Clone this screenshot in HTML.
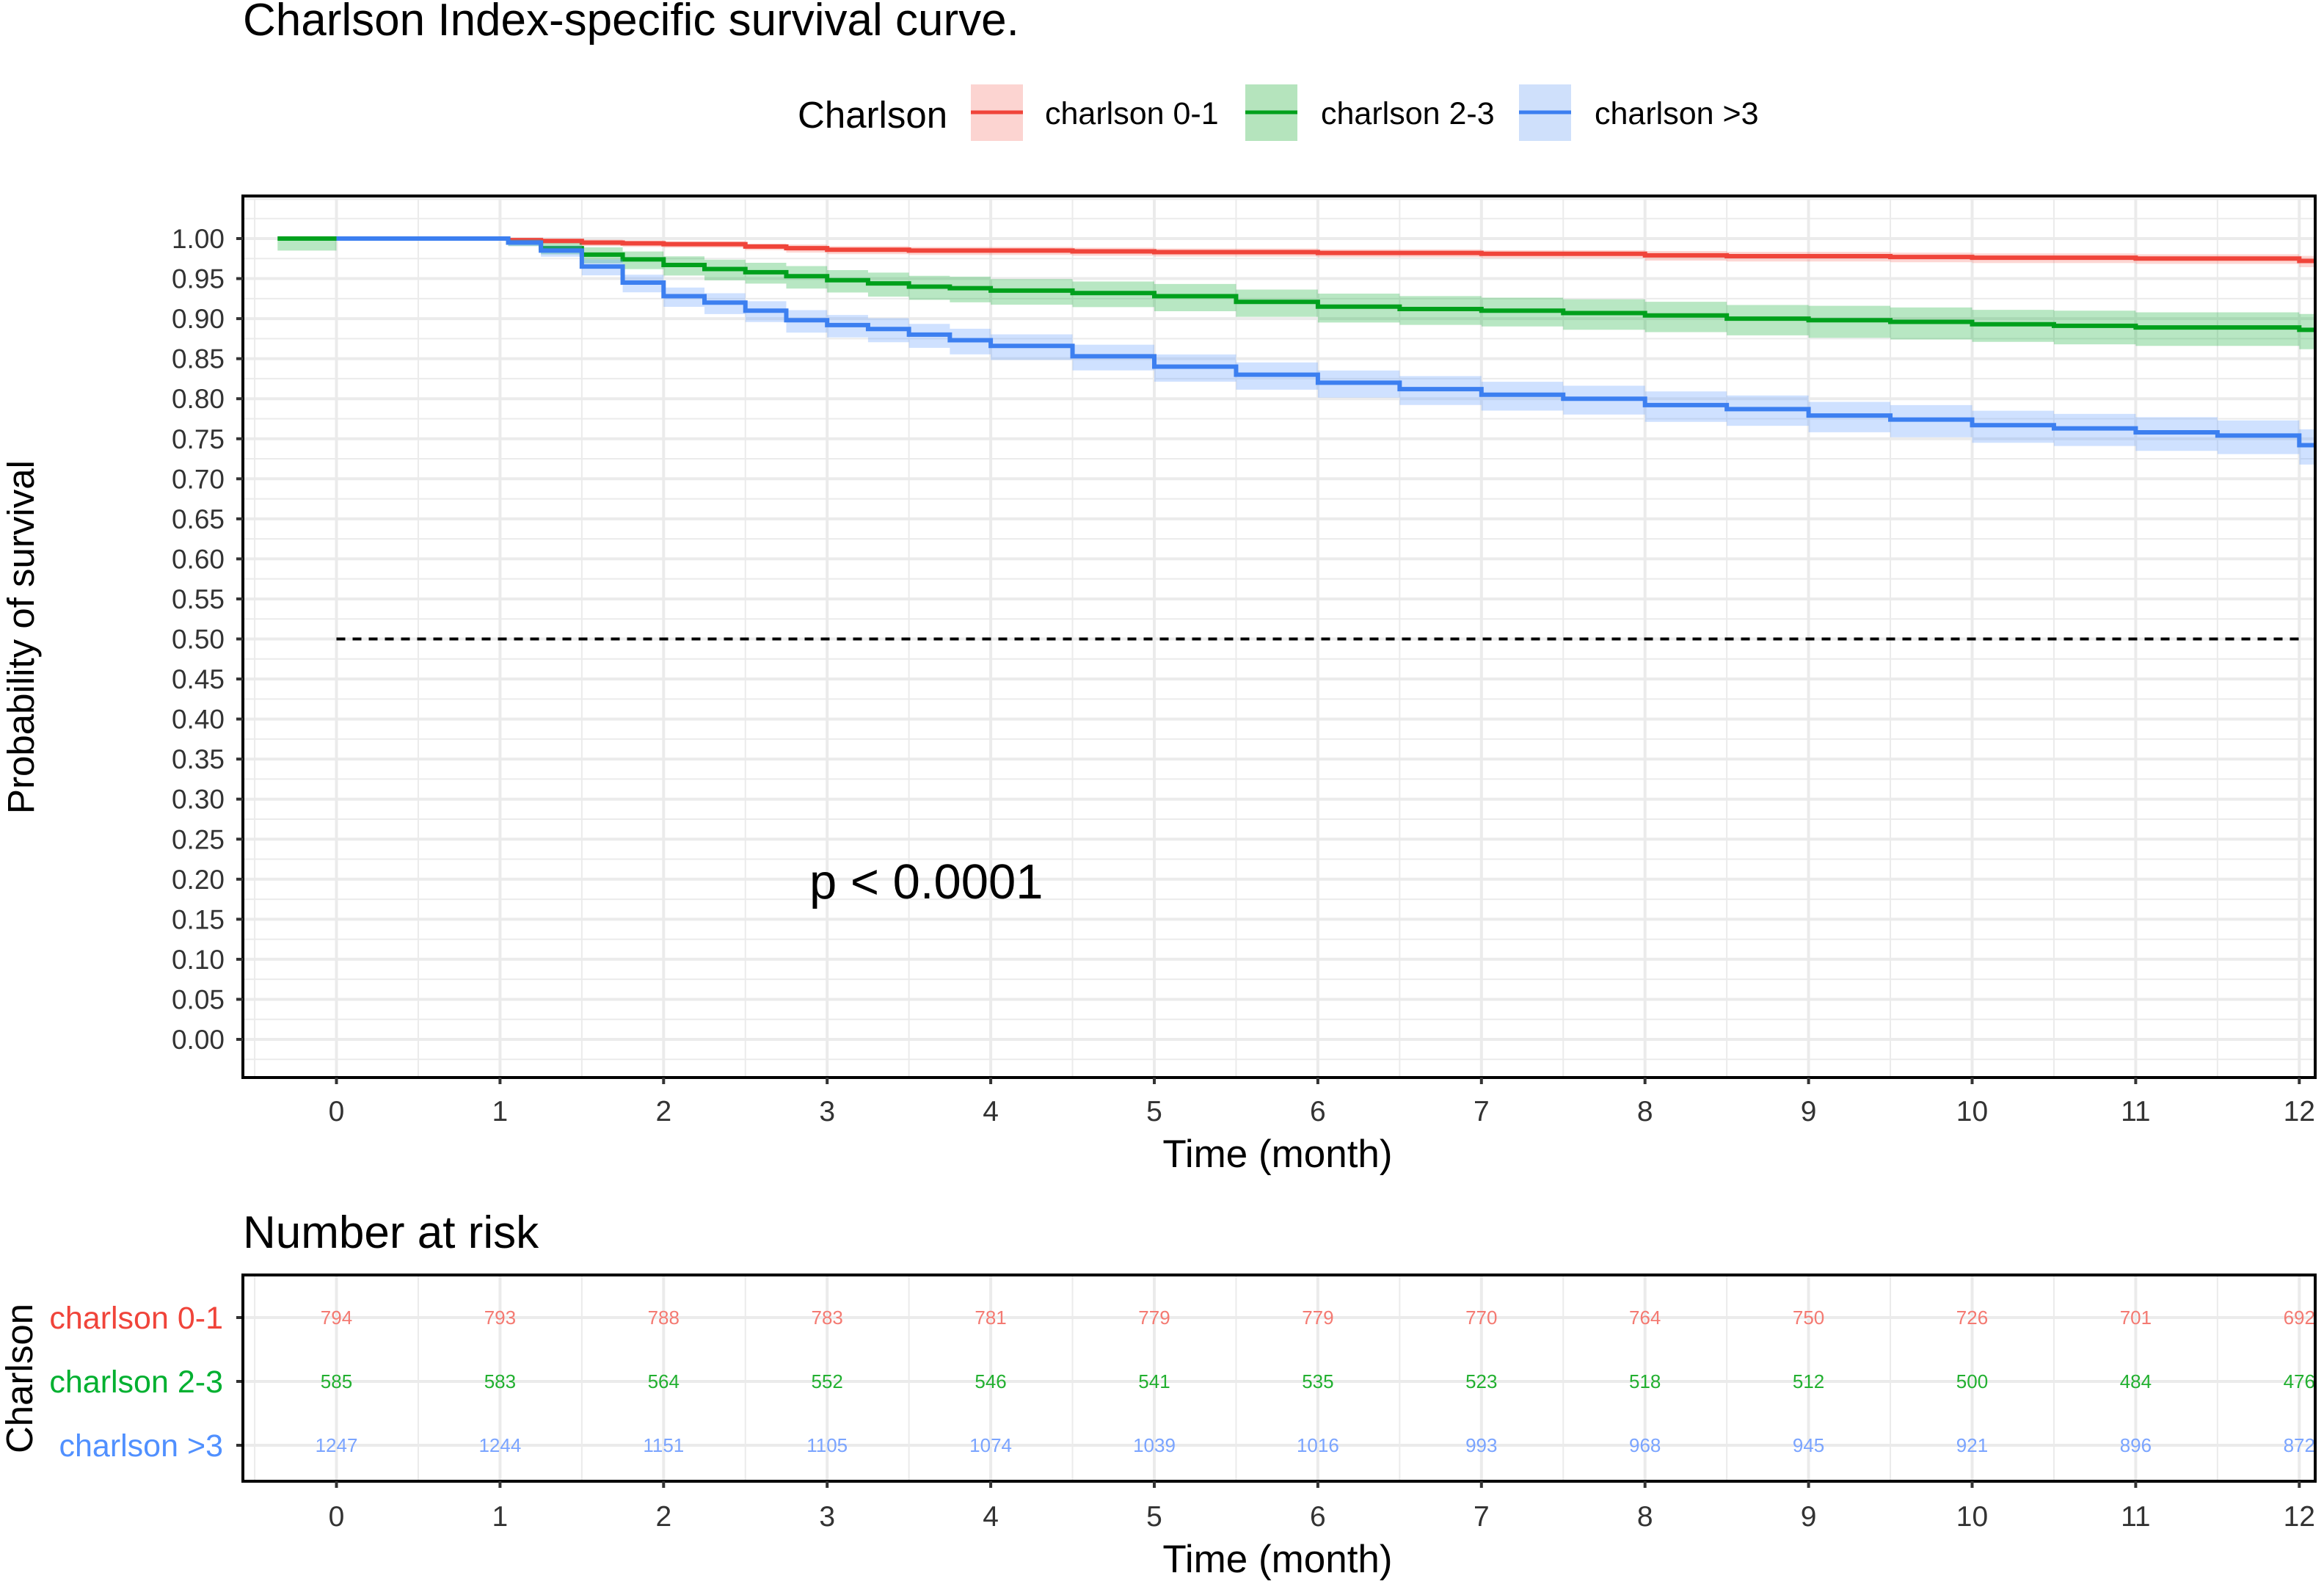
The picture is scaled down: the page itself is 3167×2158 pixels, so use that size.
<!DOCTYPE html>
<html><head><meta charset="utf-8"><style>
html,body{margin:0;padding:0;background:#fff;}
svg{display:block;font-family:"Liberation Sans",Arial,sans-serif;}
</style></head><body>
<svg id="chart" width="3167" height="2158" viewBox="0 0 3167 2158" xmlns="http://www.w3.org/2000/svg">
<defs>
<clipPath id="pclip"><rect x="331" y="267" width="2824" height="1201"/></clipPath>
<clipPath id="rclip"><rect x="331" y="1737" width="2824" height="281"/></clipPath>
</defs>
<text x="331" y="48" font-size="62">Charlson Index-specific survival curve.</text>
<g>
<text x="1087" y="174" font-size="51">Charlson</text>
<g>
<rect x="1323" y="115" width="71" height="77" fill="#fcd4d1"/><line x1="1323" y1="153" x2="1394" y2="153" stroke="#f0443a" stroke-width="5"/>
<text x="1424" y="169" font-size="43">charlson 0-1</text></g>
<g>
<rect x="1697" y="115" width="71" height="77" fill="#b5e4bd"/><line x1="1697" y1="153" x2="1768" y2="153" stroke="#00a01c" stroke-width="5"/>
<text x="1800" y="169" font-size="43">charlson 2-3</text></g>
<g>
<rect x="2070" y="115" width="71" height="77" fill="#cfe0fb"/><line x1="2070" y1="153" x2="2141" y2="153" stroke="#3c7ff0" stroke-width="5"/>
<text x="2173" y="169" font-size="43">charlson &gt;3</text></g>
</g>
<g id="main"></g>
<g id="risk"></g>
<text transform="translate(46,868) rotate(-90)" text-anchor="middle" font-size="51">Probability of survival</text>
<text x="1741" y="1590" text-anchor="middle" font-size="53">Time (month)</text>
<text x="1103" y="1224" font-size="67">p &lt; 0.0001</text>
<text x="331" y="1700" font-size="62">Number at risk</text>
<text transform="translate(44,1878) rotate(-90)" text-anchor="middle" font-size="51">Charlson</text>
<text x="1741" y="2142" text-anchor="middle" font-size="53">Time (month)</text>
</svg>
<script>
const months = [0,0.5,1,1.05,1.25,1.5,1.75,2,2.25,2.5,2.75,3,3.25,3.5,3.75,4,4.5,5,5.5,6,6.5,7,7.5,8,8.5,9,9.5,10,10.5,11,11.5,12];
const survRed   = [1,1,1,0.998,0.997,0.995,0.994,0.993,0.993,0.99,0.988,0.986,0.986,0.985,0.985,0.985,0.984,0.983,0.983,0.982,0.982,0.981,0.981,0.979,0.978,0.978,0.977,0.976,0.976,0.975,0.975,0.972];
const survGreen = [1,1,1,0.995,0.988,0.98,0.974,0.967,0.962,0.958,0.953,0.948,0.944,0.94,0.938,0.935,0.932,0.928,0.921,0.915,0.912,0.91,0.907,0.904,0.9,0.898,0.896,0.893,0.891,0.889,0.889,0.886];
const survBlue  = [1,1,1,0.995,0.985,0.965,0.945,0.928,0.92,0.91,0.898,0.892,0.887,0.88,0.873,0.866,0.853,0.84,0.83,0.82,0.812,0.805,0.8,0.792,0.787,0.779,0.774,0.767,0.763,0.758,0.754,0.742];
const ciRed   = [0,0,0,0.002,0.003,0.004,0.004,0.004,0.004,0.004,0.005,0.005,0.005,0.005,0.005,0.005,0.005,0.005,0.005,0.005,0.005,0.005,0.005,0.006,0.006,0.006,0.006,0.006,0.006,0.006,0.006,0.007];
const ciGreen = [0,0,0,0.004,0.007,0.01,0.011,0.012,0.013,0.013,0.014,0.014,0.015,0.015,0.016,0.016,0.016,0.017,0.017,0.018,0.018,0.018,0.019,0.019,0.019,0.02,0.02,0.02,0.021,0.021,0.021,0.022];
const ciBlue  = [0,0,0,0.004,0.007,0.01,0.011,0.012,0.013,0.013,0.014,0.014,0.015,0.015,0.016,0.016,0.016,0.017,0.017,0.017,0.018,0.018,0.018,0.019,0.019,0.019,0.02,0.02,0.02,0.021,0.021,0.022];
const yTicks = ["0.00","0.05","0.10","0.15","0.20","0.25","0.30","0.35","0.40","0.45","0.50","0.55","0.60","0.65","0.70","0.75","0.80","0.85","0.90","0.95","1.00"];
const xTicks = [0,1,2,3,4,5,6,7,8,9,10,11,12];
const riskRed   = [794,793,788,783,781,779,779,770,764,750,726,701,692];
const riskGreen = [585,583,564,552,546,541,535,523,518,512,500,484,476];
const riskBlue  = [1247,1244,1151,1105,1074,1039,1016,993,968,945,921,896,872];
const groups = ["charlson 0-1","charlson 2-3","charlson >3"];

const NS="http://www.w3.org/2000/svg";
const X = v => 458.5 + v*222.9;
const Y = v => 1416 - v*1091;
function mk(parent,tag,attrs){const e=document.createElementNS(NS,tag);for(const k in attrs)e.setAttribute(k,attrs[k]);parent.appendChild(e);return e;}
const main=document.getElementById('main');
const risk=document.getElementById('risk');

for(let k=-1; k<=42; k++){const v=k*0.025;const major=(k%2===0);
 const l=mk(main,'line',{x1:331,x2:3155,y1:Y(v),y2:Y(v),stroke:'#ebebeb','stroke-width':major?4:2});
 
 }
for(let k=-1; k<=24; k++){const v=k*0.5;const major=(k%2===0);
 const l=mk(main,'line',{x1:X(v),x2:X(v),y1:267,y2:1468,stroke:'#ebebeb','stroke-width':major?4:2});
 
 }
const clipG=mk(main,'g',{'clip-path':'url(#pclip)'});
function stepPts(vals){let p=[];for(let i=0;i<months.length;i++){if(i>0)p.push([X(months[i]),Y(vals[i-1])]);p.push([X(months[i]),Y(vals[i])]);}return p;}
function drawSeries(vals,ci,line,fill,name,startX){
 const up=vals.map((v,i)=>Math.min(1,v+ci[i]*0.9)), lo=vals.map((v,i)=>v-ci[i]*1.1);
 const a=stepPts(up); a.push([X(12.1),Y(up[up.length-1])]);
 const b=stepPts(lo); b.push([X(12.1),Y(lo[lo.length-1])]); b.reverse();
 const band=mk(clipG,'path',{d:'M'+a.concat(b).map(p=>p.join(',')).join('L')+'Z',fill:fill});
 
 
 const pts=stepPts(vals);
 pts.push([X(12.1),Y(vals[vals.length-1])]);
 pts.unshift([X(startX),Y(vals[0])]);
 const ln=mk(clipG,'path',{d:'M'+pts.map(p=>p.join(',')).join('L'),fill:'none',stroke:line,'stroke-width':6});
 
 
}
drawSeries(survRed,ciRed,'#f0443a','rgba(248,118,109,0.3)','charlson-0-1',0);
drawSeries(survGreen,ciGreen,'#00a01c','rgba(0,170,40,0.28)','charlson-2-3',-0.36);
drawSeries(survBlue,ciBlue,'#3c7ff0','rgba(97,156,255,0.3)','charlson-gt3',0);
const gb=mk(clipG,'rect',{x:X(-0.36),y:Y(1),width:X(0)-X(-0.36),height:Y(0.985)-Y(1),fill:'rgba(0,170,40,0.28)'});


const med=mk(main,'line',{x1:X(0),x2:X(12),y1:Y(0.5),y2:Y(0.5),stroke:'#000','stroke-width':4,'stroke-dasharray':'12,10'});


const fr=mk(main,'rect',{x:331,y:267,width:2824,height:1201,fill:'none',stroke:'#000','stroke-width':4});


yTicks.forEach(t=>{const v=parseFloat(t);
 mk(main,'line',{x1:322,x2:331,y1:Y(v),y2:Y(v),stroke:'#333','stroke-width':4});
 const tx=mk(main,'text',{x:306,y:Y(v)+13,'text-anchor':'end','font-size':37,fill:'#333'});tx.textContent=t;
 
 });
xTicks.forEach(t=>{
 mk(main,'line',{x1:X(t),x2:X(t),y1:1468,y2:1477,stroke:'#333','stroke-width':4});
 const tx=mk(main,'text',{x:X(t),y:1527,'text-anchor':'middle','font-size':39,fill:'#333'});tx.textContent=t;
 
 });

const rowY=[1795,1882,1969];
const rColors=['#f0443a','#00b030','#5090ff'];
const nColors=['#f47a72','#22b030','#7aa4ff'];
rowY.forEach(y=>{const l=mk(risk,'line',{x1:331,x2:3155,y1:y,y2:y,stroke:'#ebebeb','stroke-width':4});
 
 });
for(let k=-1; k<=24; k++){const v=k*0.5;const l=mk(risk,'line',{x1:X(v),x2:X(v),y1:1737,y2:2018,stroke:'#ebebeb','stroke-width':(k%2===0)?4:2});
 
 }
const rc=mk(risk,'g',{'clip-path':'url(#rclip)'});
[riskRed,riskGreen,riskBlue].forEach((arr,r)=>{arr.forEach((n,i)=>{
 const t=mk(rc,'text',{x:X(xTicks[i]),y:rowY[r]+9,'text-anchor':'middle','font-size':26,fill:nColors[r]});t.textContent=n;
 
 });});
groups.forEach((g,r)=>{
 mk(risk,'line',{x1:322,x2:331,y1:rowY[r],y2:rowY[r],stroke:'#333','stroke-width':4});
 const t=mk(risk,'text',{x:304,y:rowY[r]+15,'text-anchor':'end','font-size':43,fill:rColors[r]});t.textContent=g;
 
 });
const rf=mk(risk,'rect',{x:331,y:1737,width:2824,height:281,fill:'none',stroke:'#000','stroke-width':4});


xTicks.forEach(t=>{
 mk(risk,'line',{x1:X(t),x2:X(t),y1:2018,y2:2027,stroke:'#333','stroke-width':4});
 const tx=mk(risk,'text',{x:X(t),y:2079,'text-anchor':'middle','font-size':39,fill:'#333'});tx.textContent=t;
 
 });
</script>
</body></html>
